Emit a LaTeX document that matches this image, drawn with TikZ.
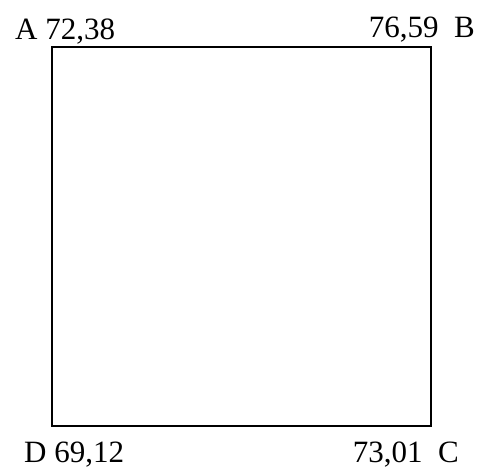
\documentclass[tikz,border=0pt]{standalone}
\usepackage{fontspec}
\setmainfont{Liberation Serif}
\usepackage{tikz}
\usetikzlibrary{positioning}

\begin{document}
\begin{tikzpicture}[x=1pt, y=1pt,
        lado/.style={draw=black, line width=1.6pt},
        cota/.style={inner sep=0pt, font=\fontsize{31}{37}\selectfont}
    ]
        \useasboundingbox (0,0) rectangle (483,468);
        % vertices del cuadrado
        \coordinate (vA) at (52,421);
        \coordinate (vB) at (431,421);
        \coordinate (vC) at (431,42);
        \coordinate (vD) at (52,42);

        \draw[lado] (vA) -- (vB) -- (vC) -- (vD) -- cycle;

        % cotas
        \node[cota, anchor=base west] (lA) at (15,428) {A 72,38};
        \node[cota, anchor=base east] (lB) at (475,430) {76,59~~B};
        \node[cota, anchor=base west] (lD) at (24,5.5) {D 69,12};
        \node[cota, anchor=base east] (lC) at (459,5.5) {73,01~~C};
    \end{tikzpicture}
\end{document}
